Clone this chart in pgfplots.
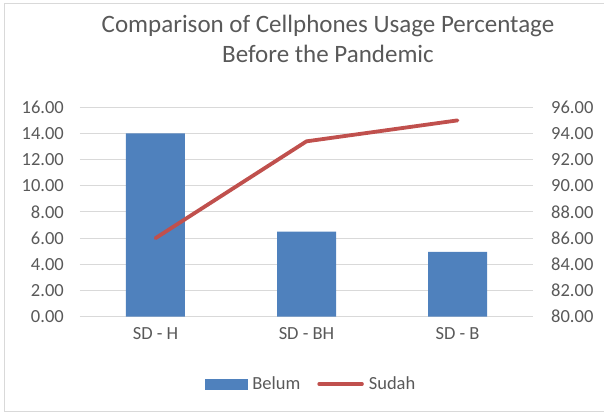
\documentclass[border=0pt]{standalone}
\usepackage{pgfplots}
\pgfplotsset{compat=1.18}
\usepackage{fontspec}
\setmainfont{Carlito}
\definecolor{barblue}{HTML}{4F81BD}
\definecolor{linered}{HTML}{C0504D}
\definecolor{textgray}{HTML}{595959}
\definecolor{gridgray}{HTML}{D9D9D9}
\newcommand{\tickfont}{\fontsize{18.5bp}{22bp}\selectfont}
\begin{document}
\begin{tikzpicture}
\useasboundingbox (-80bp,-97.3bp) rectangle (524bp,316.7bp);
\draw[gridgray, line width=1bp] (526bp,312.7bp) -- (-75bp,312.7bp) -- (-75bp,-94.3bp) -- (526bp,-94.3bp);
\pgfplotsset{
  base/.style={
    at={(0,0)}, anchor=south west,
    scale only axis, width=453bp, height=209.4bp,
    xmin=-0.5, xmax=2.5,
    axis line style={draw=none},
    major tick length=0pt,
    tick label style={font=\tickfont, text=textgray, inner sep=0pt},
    /pgf/number format/fixed,
    /pgf/number format/fixed zerofill,
    /pgf/number format/precision=2,
    /pgf/number format/assume math mode=true,
  }
}
\begin{axis}[base,
  ymin=0, ymax=16, ytick={0,2,...,16},
  ymajorgrids, grid style={gridgray, line width=1bp},
  xtick={0,1,2}, xticklabels={SD - H, SD - BH, SD - B},
  xticklabel style={anchor=north, yshift=-11bp},
  yticklabel style={anchor=east, xshift=-16bp},
  ybar, bar width=59bp,
]
\addplot[fill=barblue, draw=none] coordinates {(0,14.0) (1,6.5) (2,4.95)};
\end{axis}
\begin{axis}[base,
  ymin=80, ymax=96, ytick={80,82,...,96},
  axis y line*=right, axis x line=none,
  yticklabel style={anchor=west, xshift=18bp},
  legend columns=2,
  legend style={draw=none, fill=none, at={(0.508,-0.3214)}, anchor=center,
    font=\tickfont, text=textgray,
    nodes={inner sep=0pt},
    /tikz/every odd column/.append style={column sep=5bp},
    /tikz/every even column/.append style={column sep=17bp}},
]
\addlegendimage{legend image code/.code={\fill[barblue] (0bp,-5bp) rectangle (42bp,5bp);}}
\addlegendentry{Belum}
\addplot[color=linered, line width=3.8bp, line cap=round, line join=round,
  legend image code/.code={\draw[linered, line width=3.5bp] (0bp,0bp) -- (43bp,0bp);}]
  coordinates {(0,86.0) (1,93.4) (2,95.0)};
\addlegendentry{Sudah}
\end{axis}
\node[anchor=base, text=textgray, font=\fontsize{25bp}{30bp}\selectfont, inner sep=0pt] at (248bp,283.7bp) {Comparison of Cellphones Usage Percentage};
\node[anchor=base, text=textgray, font=\fontsize{25bp}{30bp}\selectfont, inner sep=0pt] at (248bp,253.7bp) {Before the Pandemic};
\end{tikzpicture}
\end{document}
